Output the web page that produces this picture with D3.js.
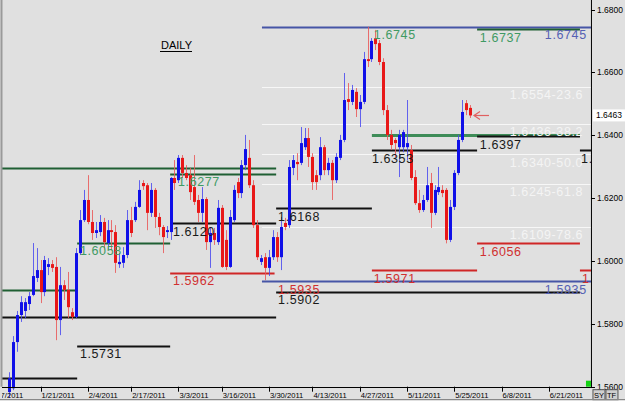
<!DOCTYPE html>
<html><head><meta charset="utf-8">
<script src="https://cdn.jsdelivr.net/npm/d3@7"></script>
<style>body{margin:0;background:#e0e0e0;overflow:hidden}svg{display:block}</style>
</head><body><svg id="c" width="625" height="401"></svg>
<script>
// ---- DATA ----
const open=[1.5583,1.5595,1.5742,1.5828,1.5841,1.5863,1.5892,1.5946,1.5971,1.5901,1.5981,1.5990,1.5981,1.5812,1.5923,1.5908,1.5837,1.5822,1.6025,1.6130,1.6194,1.6124,1.6089,1.6092,
1.6124,1.6057,1.6098,1.6092,1.5990,1.5994,1.6019,1.6130,1.6130,1.6172,1.6248,1.6241,1.6153,1.6226,1.6140,1.6108,1.6092,1.6092,1.6264,1.6257,
1.6328,1.6280,1.6273,1.6235,1.6194,1.6153,1.6197,1.6060,1.6089,1.6060,1.6169,1.6067,1.5981,1.6130,1.6251,1.6216,1.6305,1.6328,1.6241,1.6114,1.5997,1.6012,1.5978,1.6012,1.6076,1.6012,1.6121,1.6114,
1.6296,1.6315,1.6312,1.6362,1.6391,1.6331,1.6273,1.6273,1.6362,1.6289,1.6312,1.6257,1.6328,1.6385,1.6515,1.6506,1.6538,1.6483,1.6506,1.6642,1.6642,1.6709,1.6693,1.6633,1.6480,
1.6401,1.6385,1.6362,1.6362,1.6362,1.6353,1.6267,1.6184,1.6162,1.6194,1.6248,1.6153,1.6219,1.6226,1.6226,1.6067,1.6172,1.6280,1.6385,1.6502,1.6487];
const high=[1.5646,1.5761,1.5841,1.5888,1.5882,1.5901,1.6057,1.6041,1.6003,1.6016,1.6009,1.6003,1.6012,1.5981,1.5939,1.5965,1.5850,1.6041,1.6162,1.6226,1.6273,1.6162,1.6124,1.6146,
1.6137,1.6130,1.6130,1.6114,1.6025,1.6044,1.6162,1.6172,1.6188,1.6257,1.6257,1.6248,1.6248,1.6232,1.6153,1.6114,1.6111,1.6267,1.6321,1.6337,
1.6337,1.6305,1.6296,1.6337,1.6210,1.6235,1.6203,1.6105,1.6105,1.6194,1.6178,1.6098,1.6162,1.6241,1.6264,1.6321,1.6401,1.6385,1.6257,1.6130,1.6019,1.6025,1.6035,1.6098,1.6092,1.6140,1.6137,1.6321,
1.6337,1.6343,1.6426,1.6423,1.6423,1.6343,1.6289,1.6394,1.6369,1.6328,1.6321,1.6343,1.6401,1.6598,1.6566,1.6560,1.6550,1.6528,1.6665,1.6745,1.6709,1.6735,1.6703,1.6645,1.6496,
1.6417,1.6391,1.6417,1.6417,1.6512,1.6369,1.6289,1.6226,1.6210,1.6299,1.6280,1.6241,1.6299,1.6241,1.6232,1.6194,1.6289,1.6401,1.6512,1.6512,1.6496];
const low=[1.5564,1.5589,1.5711,1.5806,1.5818,1.5844,1.5888,1.5933,1.5866,1.5888,1.5955,1.5965,1.5748,1.5764,1.5876,1.5818,1.5812,1.5818,1.6019,1.6124,1.6117,1.6067,1.6073,1.6079,
1.6035,1.6035,1.6035,1.5962,1.5978,1.5978,1.6009,1.6076,1.6124,1.6169,1.6226,1.6098,1.6140,1.6105,1.6082,1.6025,1.6073,1.6067,1.6226,1.6248,
1.6264,1.6257,1.6194,1.6178,1.6124,1.6124,1.6035,1.5978,1.6051,1.6051,1.5978,1.5971,1.5978,1.6124,1.6200,1.6200,1.6289,1.6232,1.6105,1.6003,1.5987,1.5939,1.5952,1.6003,1.5997,1.5971,1.6098,1.6105,
1.6273,1.6257,1.6305,1.6353,1.6299,1.6226,1.6226,1.6257,1.6273,1.6273,1.6194,1.6248,1.6321,1.6378,1.6480,1.6496,1.6458,1.6426,1.6499,1.6617,1.6633,1.6671,1.6623,1.6464,1.6385,
1.6353,1.6331,1.6267,1.6346,1.6321,1.6257,1.6178,1.6153,1.6156,1.6188,1.6105,1.6146,1.6210,1.6203,1.6056,1.6060,1.6162,1.6273,1.6378,1.6464,1.6455];
const close=[1.5627,1.5742,1.5828,1.5869,1.5869,1.5888,1.5952,1.5971,1.5901,1.6003,1.5990,1.5978,1.5812,1.5923,1.5908,1.5853,1.5822,1.6025,1.6130,1.6194,1.6124,1.6089,1.6098,1.6124,
1.6060,1.6098,1.6092,1.5994,1.5997,1.6019,1.6130,1.6089,1.6172,1.6226,1.6238,1.6153,1.6226,1.6140,1.6108,1.6076,1.6098,1.6264,1.6248,1.6328,
1.6280,1.6264,1.6219,1.6188,1.6153,1.6197,1.6060,1.6089,1.6067,1.6169,1.5981,1.5981,1.6140,1.6226,1.6216,1.6305,1.6356,1.6241,1.6114,1.6012,1.6009,1.5978,1.6012,1.6076,1.6012,1.6108,1.6108,1.6299,
1.6321,1.6308,1.6375,1.6391,1.6331,1.6251,1.6251,1.6362,1.6289,1.6312,1.6257,1.6331,1.6385,1.6512,1.6506,1.6544,1.6483,1.6506,1.6642,1.6636,1.6700,1.6690,1.6633,1.6480,1.6401,
1.6369,1.6375,1.6401,1.6410,1.6375,1.6264,1.6184,1.6162,1.6194,1.6241,1.6153,1.6226,1.6235,1.6216,1.6067,1.6172,1.6280,1.6385,1.6474,1.6480,1.6463];

const priceTicks=[1.68,1.66,1.64,1.62,1.60,1.58,1.56];
const dateLabels=["1/7/2011","1/21/2011","2/4/2011","2/17/2011","3/3/2011","3/16/2011","3/30/2011","4/13/2011","4/27/2011","5/11/2011","5/25/2011","6/8/2011","6/21/2011"];
const dateIdx=[-4,8,20,31,43,54,66,77,89,101,113,125,137];
const lastPrice=1.6463;

// horizontal level objects: price, start bar, end bar, kind
const levelPrice=[1.6296,1.6277,1.6745,1.6737,1.6554,1.6436,1.6340,1.6245,1.6109,1.6400,1.6397,1.6353,1.6353,1.6168,1.6120,1.6058,1.5908,1.5822,1.5731,1.5628,1.5962,1.5935,1.5902,1.5971,1.5971,1.6056];
const levelFrom =[-2.3,40.9,64.2,118.8,64.2,64.2,64.2,64.2,64.2,92.1,118.8,92.1,144.9,67.8,40.9,17.3,-2.3,-2.3,17.3,-2.3,40.9,64.2,67.8,92.1,144.9,118.8];
const levelTo   =[67.8,67.8,147.7,144.9,147.7,147.7,147.7,147.7,147.7,144.9,144.9,118.8,147.7,92.1,67.8,40.9,17.3,67.8,40.9,17.3,67.4,147.7,144.9,118.8,147.7,144.9];
const levelKind =["dgreen","dgreen","blue","dgreen","white","white","white","white","white","mgreen","black","black","black","black","black","dgreen","dgreen","black","black","black","red","blue","black","red","red","red"];

// text objects: text, anchor bar, anchor price, kind
const labelText =["1.6745","1.6737","1.6745","1.6554-23.6","1.6436-38.2","1.6340-50.0","1.6245-61.8","1.6109-78.6","1.6397","1.6353","1.","1.6168","1.6120","1.6058","1.6277","1.6056","1.5962","1.5971","1","1.5935","1.5935","1.5902","1.5731"];
const labelBar  =[92.6,119.5,136.0,145.7,145.7,145.7,145.7,145.7,119.5,92.1,145.2,68.3,41.6,18.0,42.9,119.5,41.6,92.6,145.4,68.3,136.0,68.3,18.0];
const labelPrice=[1.6745,1.6737,1.6745,1.6554,1.6436,1.6340,1.6245,1.6109,1.6397,1.6353,1.6353,1.6168,1.6120,1.6058,1.6277,1.6056,1.5962,1.5971,1.5971,1.5935,1.5935,1.5902,1.5731];
const labelKind =["tgreen","tgreen","tblue","twhite","twhite","twhite","twhite","twhite","black","black","black","black","black","tgreen","tgreen","red","red","red","red","red","tblue","black","black"];

// ---- STYLES ----
const lineStyle={dgreen:["#1f5f33",2],mgreen:["#3e8c58",3],blue:["#4655a6",2],white:["#f7f7f7",1],black:["#111111",2],red:["#d02626",2]};
const textColor={tgreen:"#3f9a63",tblue:"#5561b3",twhite:"#f4f4f4",black:"#1a1a1a",red:"#d03030"};

const svg=d3.select("#c");
const W=625,H=401;
const x=d3.scaleLinear().domain([0,open.length-1]).range([9,470]);
const y=d3.scaleLinear().domain([1.56,1.68]).range([386.7,9.5]);
const plotR=x(147.7), plotB=y(1.56);

svg.append("rect").attr("width",W).attr("height",H).attr("fill","#e0e0e0");
svg.append("defs").append("clipPath").attr("id","pc").append("rect").attr("x",2).attr("y",0).attr("width",plotR-2).attr("height",H);
const g=svg.append("g").attr("clip-path","url(#pc)");

// level lines
g.selectAll("line.lv").data(levelPrice).join("line").attr("class","lv")
 .attr("x1",(d,i)=>x(levelFrom[i])).attr("x2",(d,i)=>x(levelTo[i]))
 .attr("y1",d=>Math.round(y(d))+0.5).attr("y2",d=>Math.round(y(d))+0.5)
 .attr("stroke",(d,i)=>lineStyle[levelKind[i]][0]).attr("stroke-width",(d,i)=>lineStyle[levelKind[i]][1]);

// candles
const idx=d3.range(open.length);
const bull=i=>close[i]>=open[i];
g.selectAll("line.wick").data(idx).join("line").attr("class","wick")
 .attr("x1",i=>Math.round(x(i))+0.5).attr("x2",i=>Math.round(x(i))+0.5)
 .attr("y1",i=>y(high[i])).attr("y2",i=>y(low[i]))
 .attr("stroke",i=>bull(i)?"#4b4bf0":"#ea5a5a").attr("stroke-width",1).attr("opacity",0.85);
g.selectAll("rect.body").data(idx).join("rect").attr("class","body")
 .attr("x",i=>Math.round(x(i))-1).attr("width",3)
 .attr("y",i=>y(Math.max(open[i],close[i])))
 .attr("height",i=>Math.max(1.5,Math.abs(y(open[i])-y(close[i]))))
 .attr("fill",i=>bull(i)?"#1010e8":"#e81818");

// text objects
g.selectAll("text.lb").data(labelText).join("text").attr("class","lb")
 .attr("x",(d,i)=>x(labelBar[i])).attr("y",(d,i)=>y(labelPrice[i])+12.5)
 .attr("text-anchor",(d,i)=>labelKind[i]==="twhite"?"end":"start")
 .attr("fill",(d,i)=>textColor[labelKind[i]])
 .attr("font-family","Liberation Sans, Arial, sans-serif").attr("font-size",12.5).attr("letter-spacing",0.6)
 .text(d=>d);

// DAILY title
svg.append("text").attr("x",161).attr("y",49).attr("font-family","Liberation Sans, Arial, sans-serif")
 .attr("font-size",11).attr("fill","#000").text("DAILY");
svg.append("line").attr("x1",160).attr("x2",192).attr("y1",51.5).attr("y2",51.5).attr("stroke","#000").attr("stroke-width",1);

// arrow at last price
const ay=Math.round(y(lastPrice))+0.5, ax=x(open.length-1)+4;
const arr=svg.append("g").attr("stroke","#e06060").attr("stroke-width",1.2).attr("fill","none");
arr.append("line").attr("x1",ax).attr("x2",ax+15).attr("y1",ay).attr("y2",ay);
arr.append("polyline").attr("points",`${ax+6},${ay-4} ${ax},${ay} ${ax+6},${ay+4}`);

// frame / axes
svg.append("line").attr("x1",1.5).attr("x2",1.5).attr("y1",0).attr("y2",plotB).attr("stroke","#9a9a9a").attr("stroke-width",2);
svg.append("line").attr("x1",plotR+0.5).attr("x2",plotR+0.5).attr("y1",0).attr("y2",plotB+1).attr("stroke","#000");
svg.append("line").attr("x1",2).attr("x2",plotR).attr("y1",Math.round(plotB)+0.5).attr("y2",Math.round(plotB)+0.5).attr("stroke","#000");

const yAxis=svg.append("g");
yAxis.selectAll("line").data(priceTicks).join("line")
 .attr("x1",plotR).attr("x2",plotR+4).attr("y1",d=>Math.round(y(d))+0.5).attr("y2",d=>Math.round(y(d))+0.5).attr("stroke","#000");
yAxis.selectAll("text").data(priceTicks).join("text")
 .attr("x",plotR+6).attr("y",d=>y(d)+3).attr("font-family","Liberation Sans, Arial, sans-serif").attr("font-size",8.5).attr("fill","#000")
 .text(d=>d3.format(".4f")(d));

// current price tag
svg.append("rect").attr("x",plotR+2).attr("y",y(lastPrice)-6).attr("width",32).attr("height",12).attr("fill","#fff");
svg.append("text").attr("x",plotR+5).attr("y",y(lastPrice)+3).attr("font-family","Liberation Sans, Arial, sans-serif").attr("font-size",8.5).attr("fill","#000").text(d3.format(".4f")(lastPrice));

// date axis
const xg=svg.append("g").attr("clip-path","url(#pc)");
xg.selectAll("line").data(dateIdx).join("line")
 .attr("x1",d=>Math.round(x(d))+0.5).attr("x2",d=>Math.round(x(d))+0.5).attr("y1",plotB).attr("y2",plotB+5).attr("stroke","#000");
xg.selectAll("text").data(dateLabels).join("text")
 .attr("x",(d,i)=>x(dateIdx[i])+1).attr("y",plotB+11).attr("font-family","Liberation Sans, Arial, sans-serif").attr("font-size",7.6).attr("fill","#000")
 .text(d=>d);

// small widgets bottom right
svg.append("rect").attr("x",plotR-5).attr("y",plotB-6).attr("width",5).attr("height",6).attr("fill","#14d214");
["SY","TF"].forEach((t,i)=>{
  svg.append("rect").attr("x",plotR+2+i*13).attr("y",plotB+3).attr("width",12).attr("height",10).attr("fill","#d0d0d0").attr("stroke","#555");
  svg.append("text").attr("x",plotR+3+i*13).attr("y",plotB+11).attr("font-family","Liberation Sans, Arial, sans-serif").attr("font-size",7.5).attr("fill","#000").text(t);
});
svg.append("line").attr("x1",0).attr("x2",W).attr("y1",H-1.5).attr("y2",H-1.5).attr("stroke","#888");
</script></body></html>
